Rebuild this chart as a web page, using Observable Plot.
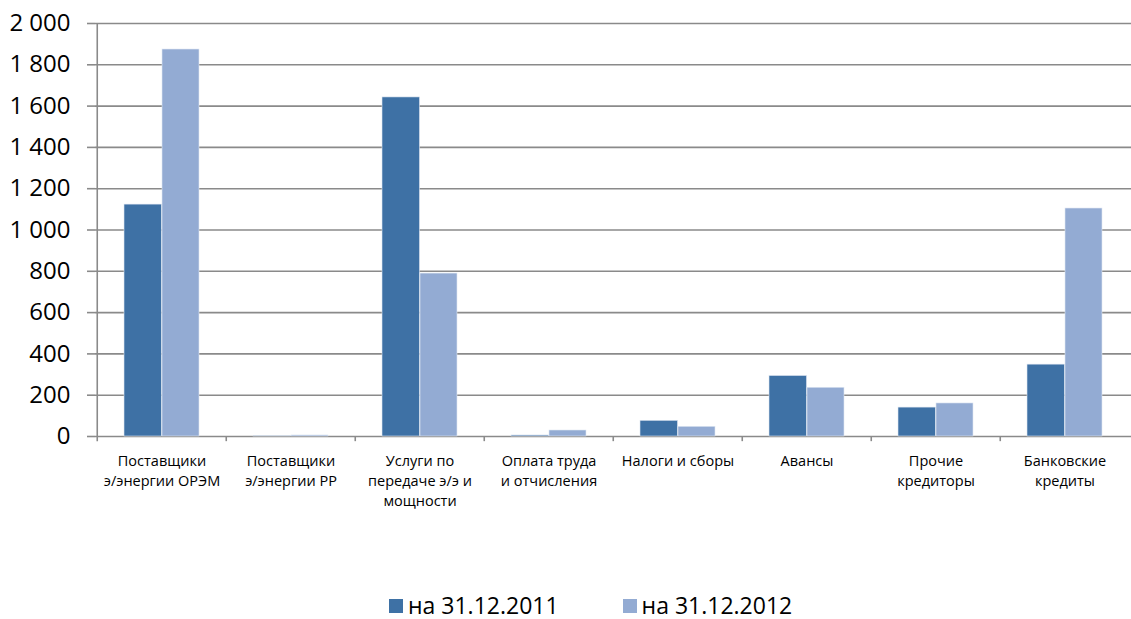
<!DOCTYPE html>
<html><head><meta charset="utf-8">
<script src="https://cdn.jsdelivr.net/npm/d3@7"></script>
<script src="https://cdn.jsdelivr.net/npm/@observablehq/plot@0.6"></script>
<style>
body{margin:0;background:#fff;font-family:"Open Sans",sans-serif;color:#000;}
#chart svg{display:block;}
#legend{height:27px;line-height:27px;display:flex;align-items:center;padding-left:389px;font-size:23px;}
.item{display:flex;align-items:center;}
.sw{width:14px;height:14px;margin-right:5px;}
</style></head><body>
<div id="chart"></div>
<div id="legend"></div>
<script>
const categories = ["ОРЭМ","РР","Услуги","Оплата","Налоги","Авансы","Прочие","Банковские"];
const tickLabels = [
  "Поставщики\nэ/энергии ОРЭМ",
  "Поставщики\nэ/энергии РР",
  "Услуги по\nпередаче э/э и\nмощности",
  "Оплата труда\nи отчисления",
  "Налоги и сборы",
  "Авансы",
  "Прочие\nкредиторы",
  "Банковские\nкредиты"
];
const series = ["на 31.12.2011","на 31.12.2012"];
const values2011 = [1123, 1, 1642, 5, 76, 293, 140, 348];
const values2012 = [1874, 5, 789, 29, 47, 236, 160, 1104];
const yTicks = [0,200,400,600,800,1000,1200,1400,1600,1800,2000];
const colors = ["#3E71A5","#93ABD3"];

const rows = categories.flatMap((c,i)=>[
  {category:c, series:series[0], value:values2011[i]},
  {category:c, series:series[1], value:values2012[i]}
]);

const W = 1131, H = 592, mL = 95, mR = 0, mT = 23, mB = 156;
const bw = (W - mL - mR) / categories.length;
const gridColor = "#8a8a8a";
const fmt = d => d3.format(",")(d).replace(/,/g, " ");
const labelOf = c => tickLabels[categories.indexOf(c)];

const plot = Plot.plot({
  width: W, height: H,
  marginLeft: mL, marginRight: mR, marginTop: mT, marginBottom: mB,
  style: {fontFamily: '"Open Sans", sans-serif', color: "#000", background: "#fff"},
  x: {domain: categories, padding: 0, label: null},
  y: {domain: [0, 2000], label: null},
  color: {domain: series, range: colors},
  marks: [
    Plot.gridY(yTicks, {stroke: gridColor, strokeOpacity: 1, strokeWidth: 1.6}),
    Plot.ruleX([categories[0]], {y1: -25, y2: 2000, dx: -bw/2, stroke: gridColor, strokeWidth: 1.6}),
    Plot.ruleX(categories.slice(1), {y1: -25, y2: 0, dx: -bw/2, stroke: gridColor, strokeWidth: 1.6}),
    Plot.barY(rows.filter(d => d.series === series[0]), {x: "category", y: "value", fill: "series", insetLeft: 27, insetRight: 64.5, stroke: "#dfe7f2", strokeWidth: 0.6}),
    Plot.barY(rows.filter(d => d.series === series[1]), {x: "category", y: "value", fill: "series", insetLeft: 65, insetRight: 27, stroke: "#dfe7f2", strokeWidth: 0.6}),
    Plot.axisY(yTicks, {label: null, tickSize: 8, tickPadding: 17, tickFormat: fmt, fontSize: 24, stroke: gridColor, strokeWidth: 1.6, fill: "#000"}),
    Plot.axisX({label: null, tickSize: 0, tickPadding: 15, tickFormat: labelOf, fontSize: 14.5, lineHeight: 1.38, fill: "#000"})
  ]
});
document.getElementById("chart").appendChild(plot);

const lg = document.getElementById("legend");
series.forEach((s,i) => {
  const it = document.createElement("div");
  it.className = "item";
  if (i > 0) it.style.marginLeft = "64px";
  const sw = document.createElement("span");
  sw.className = "sw"; sw.style.background = colors[i];
  const t = document.createElement("span");
  t.textContent = s;
  it.appendChild(sw); it.appendChild(t);
  lg.appendChild(it);
});
</script>
</body></html>
